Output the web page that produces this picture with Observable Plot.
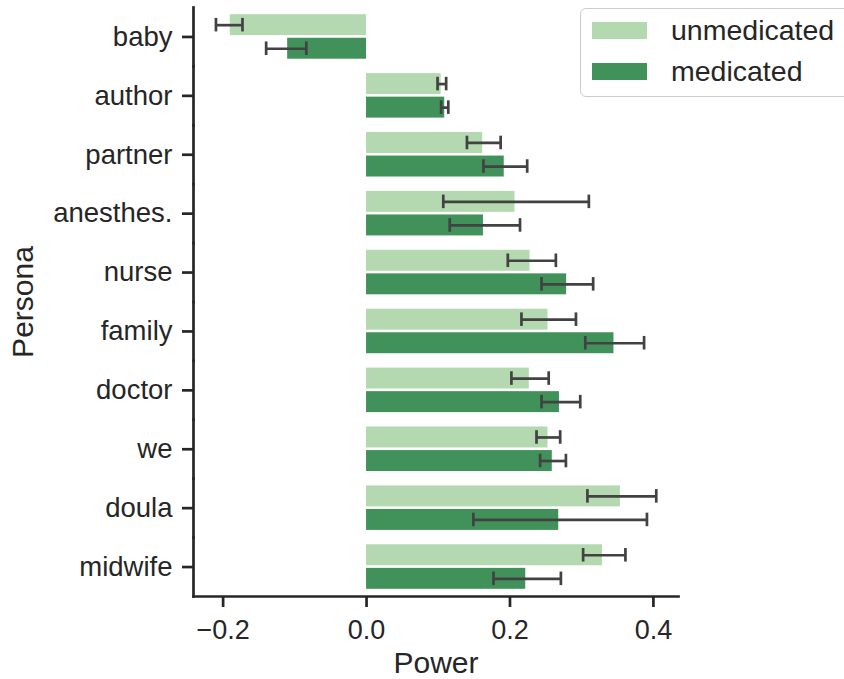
<!DOCTYPE html>
<html>
<head>
<meta charset="utf-8">
<script src="https://cdn.jsdelivr.net/npm/d3@7"></script>
<script src="https://cdn.jsdelivr.net/npm/@observablehq/plot@0.6"></script>
<style>
  body { margin: 0; background: #fff; width: 844px; height: 679px; overflow: hidden; position: relative;
         font-family: "Liberation Sans", Arial, sans-serif; }
  #chart { position: absolute; left: 0; top: 0; }
  #legend { position: absolute; left: 580px; top: 8px; width: 290px; height: 89px; box-sizing: border-box;
            border: 1.3px solid #cccccc; border-radius: 6px; background: rgba(255,255,255,0.8); }
  .item { position: absolute; left: 11px; height: 34px; display: flex; align-items: center;
          font-size: 28.5px; color: #262626; white-space: nowrap; }
  .sw { width: 55px; height: 17px; margin-right: 24px; flex: none; }
</style>
</head>
<body>
<div id="chart"></div>
<div id="legend"></div>
<script>
// ---- data ----
const personas = ["baby", "author", "partner", "anesthes.", "nurse", "family", "doctor", "we", "doula", "midwife"];
const conditions = ["unmedicated", "medicated"];

const unmedicated   = [-0.190, 0.104, 0.162, 0.207, 0.228, 0.253, 0.227, 0.253, 0.354, 0.329];
const unmedicatedLo = [-0.210, 0.099, 0.140, 0.107, 0.197, 0.216, 0.202, 0.237, 0.308, 0.302];
const unmedicatedHi = [-0.173, 0.111, 0.187, 0.310, 0.264, 0.292, 0.254, 0.270, 0.404, 0.361];

const medicated     = [-0.110, 0.109, 0.192, 0.163, 0.279, 0.345, 0.269, 0.259, 0.268, 0.222];
const medicatedLo   = [-0.140, 0.104, 0.163, 0.116, 0.244, 0.305, 0.244, 0.242, 0.149, 0.177];
const medicatedHi   = [-0.084, 0.114, 0.224, 0.214, 0.316, 0.387, 0.298, 0.278, 0.391, 0.271];

const xTicks = [-0.2, 0.0, 0.2, 0.4];
const xDomain = [-0.2413, 0.435];
const colors = ["#b4d8af", "#41925a"];

// ---- table built from the arrays ----
const rows = [];
personas.forEach((p, i) => {
  rows.push({persona: p, condition: "unmedicated", value: unmedicated[i], lo: unmedicatedLo[i], hi: unmedicatedHi[i]});
  rows.push({persona: p, condition: "medicated", value: medicated[i], lo: medicatedLo[i], hi: medicatedHi[i]});
});

const ink = "#262626";
const errInk = "#424242";
const font = '"Liberation Sans", Arial, sans-serif';

const chart = Plot.plot({
  width: 844,
  height: 679,
  marginLeft: 193,
  marginRight: 166,
  marginTop: 7,
  marginBottom: 83,
  style: {fontFamily: font, color: ink, background: "transparent", overflow: "visible"},
  x: {domain: xDomain},
  y: {domain: conditions, paddingInner: 0, paddingOuter: 0.25, round: false, axis: null},
  fy: {domain: personas, padding: 0, round: false},
  color: {domain: conditions, range: colors},
  marks: [
    Plot.barX(rows, {fy: "persona", y: "condition", x: "value", fill: "condition", insetTop: 1.3, insetBottom: 1.3}),
    Plot.ruleY(rows, {fy: "persona", y: "condition", x1: "lo", x2: "hi", stroke: errInk, strokeWidth: 2.7}),
    Plot.tickX(rows, {fy: "persona", y: "condition", x: "lo", stroke: errInk, strokeWidth: 2.7, insetTop: 5, insetBottom: 5}),
    Plot.tickX(rows, {fy: "persona", y: "condition", x: "hi", stroke: errInk, strokeWidth: 2.7, insetTop: 5, insetBottom: 5}),
    Plot.frame({anchor: "left", stroke: ink, strokeWidth: 2.7}),
    Plot.frame({anchor: "bottom", fy: "midwife", stroke: ink, strokeWidth: 2.7}),
    Plot.axisFy({anchor: "left", tickSize: 11, tickPadding: 10, fontSize: 27.5, stroke: ink, strokeWidth: 2.7, label: null}),
    Plot.axisFy({anchor: "left", ticks: [], tickSize: 0, fontSize: 30, label: "Persona", labelAnchor: "center",
                 labelArrow: "none", labelOffset: 182}),
    Plot.axisX({anchor: "bottom", ticks: xTicks, tickFormat: d3.format(".1f"), tickSize: 11, tickPadding: 12,
                fontSize: 27, stroke: ink, strokeWidth: 2.7, label: null}),
    Plot.axisX({anchor: "bottom", ticks: [], tickSize: 0, fontSize: 30, label: "Power", labelAnchor: "center",
                labelArrow: "none", labelOffset: 76})
  ]
});
document.getElementById("chart").appendChild(chart);

// ---- legend (HTML) ----
const legend = document.getElementById("legend");
const itemTops = [4, 45];
conditions.forEach((c, i) => {
  const item = document.createElement("div");
  item.className = "item";
  item.style.top = itemTops[i] + "px";
  const sw = document.createElement("span");
  sw.className = "sw";
  sw.style.background = colors[i];
  const label = document.createElement("span");
  label.textContent = c;
  item.appendChild(sw);
  item.appendChild(label);
  legend.appendChild(item);
});
</script>
</body>
</html>
